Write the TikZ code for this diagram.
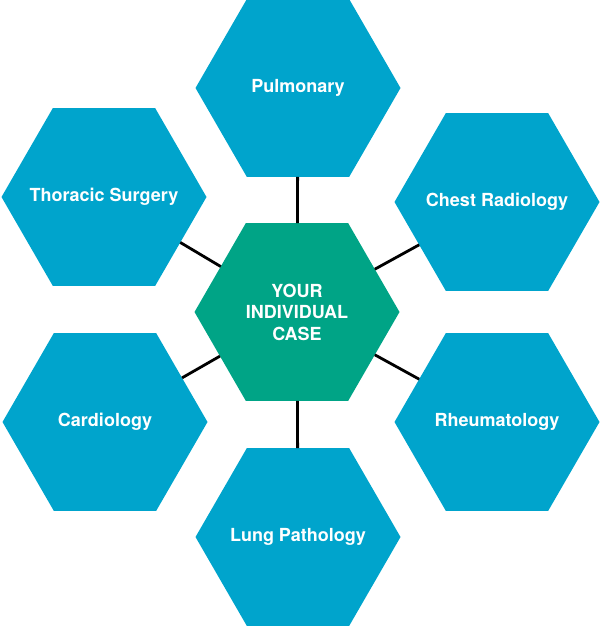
\documentclass[tikz,border=0pt]{standalone}
\usepackage{fontspec}
\setmainfont{TeX Gyre Heros}
\usetikzlibrary{shapes.geometric}
\definecolor{teamblue}{RGB}{0,164,204}
\definecolor{casegreen}{RGB}{0,164,134}
\tikzset{
  hexblock/.style={regular polygon, regular polygon sides=6, minimum size=205pt, inner sep=-25pt, outer sep=0pt, fill=teamblue, text=white, align=center, font=\fontsize{18}{21.5}\selectfont\bfseries},
  hexcase/.style={hexblock, fill=casegreen},
  hexlink/.style={line width=2.8pt, black}
}
\begin{document}
\begin{tikzpicture}[x=1pt, y=-1pt]
\useasboundingbox (0,0) rectangle (600,626);
\node[hexcase] (case) at (297,312) {YOUR\\INDIVIDUAL\\CASE};
\node[hexblock] (pulm) at (298,88) {Pulmonary};
\node[hexblock] (thorac) at (104,197) {Thoracic Surgery};
\node[hexblock] (chest) at (497,202) {Chest Radiology};
\node[hexblock] (cardio) at (105,422) {Cardiology};
\node[hexblock] (rheum) at (497,422) {Rheumatology};
\node[hexblock] (lung) at (298,537) {Lung Pathology};
\draw[hexlink] (case) -- (pulm);
\draw[hexlink] (case) -- (thorac);
\draw[hexlink] (case) -- (chest);
\draw[hexlink] (case) -- (cardio);
\draw[hexlink] (case) -- (rheum);
\draw[hexlink] (case) -- (lung);
\end{tikzpicture}
\end{document}
